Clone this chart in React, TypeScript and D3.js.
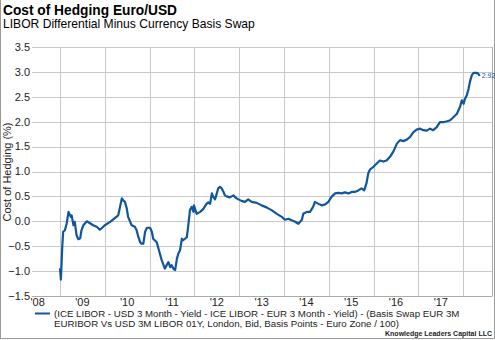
import React from "react";
import * as d3 from "d3";

// decimal-year dates and cost-of-hedging values (%)
const dates: number[] = [
  2009.0, 2009.02, 2009.05, 2009.07, 2009.11, 2009.15, 2009.19, 2009.21, 2009.24, 2009.26,
  2009.3, 2009.33, 2009.37, 2009.41, 2009.45, 2009.48, 2009.52, 2009.6, 2009.67, 2009.74,
  2009.82, 2009.89, 2009.93, 2010.0, 2010.12, 2010.23, 2010.3, 2010.34, 2010.38, 2010.41,
  2010.45, 2010.49, 2010.52, 2010.6, 2010.67, 2010.71, 2010.75, 2010.79, 2010.82, 2010.86,
  2010.9, 2010.94, 2011.01, 2011.05, 2011.08, 2011.16, 2011.19, 2011.23, 2011.27, 2011.34,
  2011.38, 2011.42, 2011.46, 2011.49, 2011.53, 2011.57, 2011.61, 2011.64, 2011.68, 2011.72,
  2011.75, 2011.79, 2011.83, 2011.86, 2011.9, 2011.94, 2011.98, 2011.99, 2012.05, 2012.13,
  2012.2, 2012.27, 2012.31, 2012.35, 2012.39, 2012.42, 2012.46, 2012.5, 2012.53, 2012.57,
  2012.61, 2012.65, 2012.68, 2012.72, 2012.79, 2012.87, 2012.94, 2013.05, 2013.13, 2013.2,
  2013.28, 2013.39, 2013.5, 2013.61, 2013.73, 2013.84, 2013.95, 2014.02, 2014.1, 2014.17,
  2014.25, 2014.32, 2014.4, 2014.43, 2014.51, 2014.58, 2014.65, 2014.69, 2014.77, 2014.84,
  2014.92, 2014.99, 2015.06, 2015.14, 2015.21, 2015.29, 2015.36, 2015.44, 2015.51, 2015.58,
  2015.66, 2015.73, 2015.79, 2015.84, 2015.88, 2015.92, 2015.99, 2016.07, 2016.14, 2016.22,
  2016.29, 2016.37, 2016.44, 2016.52, 2016.59, 2016.66, 2016.74, 2016.81, 2016.89, 2016.96,
  2017.04, 2017.11, 2017.19, 2017.26, 2017.33, 2017.41, 2017.48, 2017.56, 2017.64, 2017.71,
  2017.78, 2017.86, 2017.93, 2017.97, 2018.01, 2018.04, 2018.08, 2018.12, 2018.15, 2018.19,
  2018.23, 2018.29, 2018.33, 2018.37,
];
const values: number[] = [
  -0.94, -1.17, -0.52, -0.21, -0.18, -0.04, 0.19, 0.15, 0.09, 0.12,
  -0.08, -0.01, -0.28, -0.36, -0.34, -0.18, -0.08, 0.0, -0.04, -0.08,
  -0.11, -0.17, -0.14, -0.08, -0.01, 0.07, 0.12, 0.29, 0.46, 0.42,
  0.39, 0.26, 0.09, -0.08, -0.11, -0.18, -0.32, -0.42, -0.45, -0.45,
  -0.21, -0.13, -0.13, -0.21, -0.35, -0.42, -0.52, -0.65, -0.78, -0.95,
  -0.88, -0.82, -0.92, -0.88, -0.95, -0.98, -0.75, -0.65, -0.58, -0.35,
  -0.38, -0.35, -0.32, -0.11, 0.22, 0.29, 0.19, 0.32, 0.15, 0.19,
  0.25, 0.35, 0.38, 0.35, 0.56, 0.49, 0.44, 0.56, 0.66, 0.69,
  0.66, 0.59, 0.52, 0.5, 0.48, 0.52, 0.46, 0.41, 0.39, 0.44,
  0.39, 0.37, 0.32, 0.28, 0.22, 0.15, 0.09, 0.03, 0.05, 0.02,
  -0.01, -0.05, 0.03, 0.15, 0.19, 0.19, 0.29, 0.39, 0.35, 0.32,
  0.34, 0.39, 0.49, 0.56, 0.57, 0.56, 0.58, 0.56, 0.59, 0.59,
  0.62, 0.66, 0.62, 0.76, 0.96, 1.04, 1.09, 1.16, 1.22, 1.2,
  1.22, 1.3, 1.4, 1.56, 1.63, 1.61, 1.64, 1.69, 1.79, 1.84,
  1.86, 1.83, 1.82, 1.86, 1.83, 1.89, 1.99, 1.99, 2.01, 2.03,
  2.09, 2.16, 2.3, 2.43, 2.36, 2.46, 2.53, 2.66, 2.8, 2.93,
  2.98, 2.98, 2.97, 2.92,
];
const yTicks: number[] = [-1.5, -1.0, -0.5, 0.0, 0.5, 1.0, 1.5, 2.0, 2.5, 3.0, 3.5];
const yearTicks: number[] = [2009, 2010, 2011, 2012, 2013, 2014, 2015, 2016, 2017, 2018];
const yearLabels: string[] = ["'08", "'09", "'10", "'11", "'12", "'13", "'14", "'15", "'16", "'17"];
const labelYears: number[] = [2008.5, 2009.5, 2010.5, 2011.5, 2012.5, 2013.5, 2014.5, 2015.5, 2016.5, 2017.5];
const lastLabel = "2.92";
const legendLines: string[] = [
  "(ICE LIBOR - USD 3 Month - Yield - ICE LIBOR - EUR 3 Month - Yield) - (Basis Swap EUR 3M",
  "EURIBOR Vs USD 3M LIBOR 01Y, London, Bid, Basis Points - Euro Zone / 100)",
];

export default function App() {
  const W = 495, H = 340;
  const left = 32, right = 492, top = 47, bottom = 296;
  const x = d3.scaleLinear().domain([2009 - 28 / 44.8, 2009 + 432 / 44.8]).range([left, right]);
  const y = d3.scaleLinear().domain([-1.5, 3.5]).range([bottom, top]);
  const pts = dates.map((d, i) => [d, values[i]] as [number, number]);
  const line = d3.line<[number, number]>().x((p) => x(p[0])).y((p) => y(p[1]));
  const blue = "#10569c";
  const grid = "#c9c9c9";
  const font = "Liberation Sans, Arial, sans-serif";
  const last = pts[pts.length - 1];

  return (
    <svg width={W} height={H} style={{ position: "absolute", left: 0, top: 0 }} fontFamily={font}>
      <rect x={0} y={0} width={W} height={H} fill="#fff" />
      {/* outer frame */}
      <line x1={0.5} x2={0.5} y1={0} y2={338.5} stroke="#999" />
      <line x1={0} x2={494.5} y1={338.5} y2={338.5} stroke="#999" />
      <line x1={494.5} x2={494.5} y1={0} y2={338.5} stroke="#999" />

      <text x={3} y={14.5} fontSize={14.5} fontWeight="bold" fill="#000" textLength={174} lengthAdjust="spacingAndGlyphs">
        Cost of Hedging Euro/USD
      </text>
      <text x={3} y={27.5} fontSize={12.1} fill="#000">
        LIBOR Differential Minus Currency Basis Swap
      </text>

      {/* grid */}
      {yTicks.map((t) => (
        <line key={"h" + t} x1={left} x2={right} y1={Math.round(y(t)) + 0.5} y2={Math.round(y(t)) + 0.5} stroke={grid} />
      ))}
      {yearTicks.map((t) => (
        <line key={"v" + t} x1={Math.round(x(t)) + 0.5} x2={Math.round(x(t)) + 0.5} y1={top} y2={bottom} stroke={grid} />
      ))}
      <line x1={right + 0.5} x2={right + 0.5} y1={top} y2={bottom + 0.5} stroke="#aaa" />
      <line x1={left} x2={right} y1={bottom + 0.5} y2={bottom + 0.5} stroke="#aaa" />

      {yTicks.map((t) => (
        <text key={"yl" + t} x={30} y={y(t)} dy="0.35em" textAnchor="end" fontSize={11} fill="#222">
          {d3.format(".1f")(t)}
        </text>
      ))}
      {labelYears.map((t, i) => (
        <text key={"xl" + t} x={x(t)} y={306} textAnchor="middle" fontSize={11} fill="#222">
          {yearLabels[i]}
        </text>
      ))}
      <text transform={`translate(11,172) rotate(-90)`} textAnchor="middle" fontSize={11} fill="#222">
        Cost of Hedging (%)
      </text>

      <path d={line(pts) || ""} fill="none" stroke={blue} strokeWidth={2.2} strokeLinejoin="round" />
      <text x={x(last[0]) + 2} y={y(last[1])} dy="0.35em" fontSize={7} fill={blue}>
        {lastLabel}
      </text>

      {/* legend */}
      <line x1={35} x2={50} y1={313.5} y2={313.5} stroke={blue} strokeWidth={2} />
      {legendLines.map((s, i) => (
        <text key={"lg" + i} x={54} y={317 + i * 10} fontSize={9.7} fill="#222">
          {s}
        </text>
      ))}
      <text x={492} y={335.5} textAnchor="end" fontSize={7} fontWeight="bold" fill="#222">
        Knowledge Leaders Capital LLC
      </text>
    </svg>
  );
}
